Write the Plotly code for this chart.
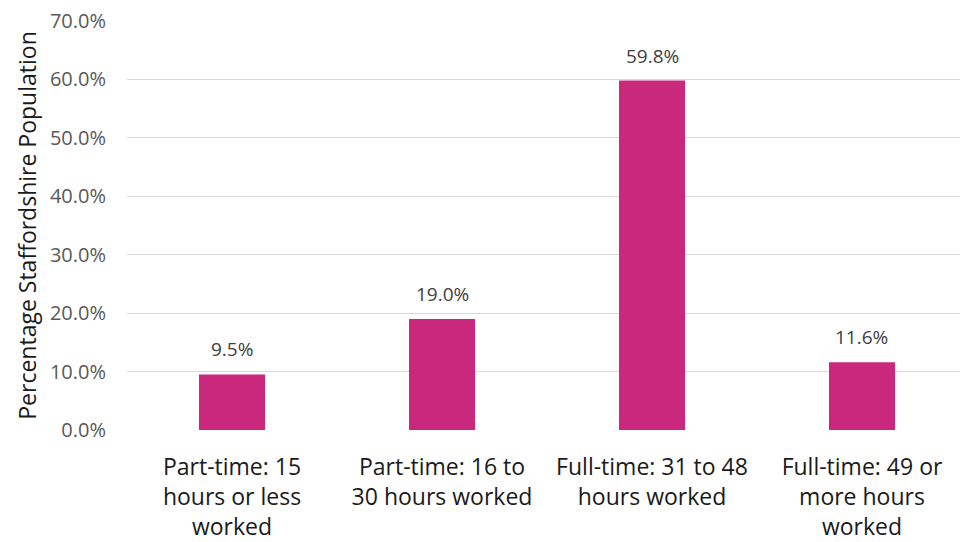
import plotly.graph_objects as go

categories = ["Part-time: 15<br>hours or less<br>worked",
              "Part-time: 16 to<br>30 hours worked",
              "Full-time: 31 to 48<br>hours worked",
              "Full-time: 49 or<br>more hours<br>worked"]
values = [9.5, 19.0, 59.8, 11.6]
y_ticks = [0, 10, 20, 30, 40, 50, 60, 70]

BAR = "#C9287D"
FONT = "Open Sans"

fig = go.Figure()
fig.add_trace(go.Bar(x=categories, y=values, marker=dict(color=BAR, line=dict(width=0)),
                     width=66/210, hoverinfo="skip"))

for c, v in zip(categories, values):
    fig.add_annotation(x=c, y=v, text=f"{v:.1f}%", showarrow=False, yanchor="middle",
                       yshift=25, font=dict(family=FONT, size=19, color="#404040"))

fig.update_layout(
    width=960, height=542, margin=dict(l=127, r=0, t=21, b=112),
    paper_bgcolor="white", plot_bgcolor="white", showlegend=False,
    xaxis=dict(range=[-0.5, 3.4667], showgrid=False, showline=False, ticks="",
               tickfont=dict(family=FONT, size=23, color="#1a1a1a"), ticklabelstandoff=21),
    yaxis=dict(range=[0, 70], tickvals=y_ticks, ticktext=[f"{t:.1f}%" for t in y_ticks],
               showgrid=True, gridcolor="#D9D9D9", gridwidth=1, zeroline=False,
               tickfont=dict(family=FONT, size=20, color="#595959"), ticklabelstandoff=20,
               title=dict(text="Percentage Staffordshire Population",
                          font=dict(family=FONT, size=23, color="#1a1a1a"), standoff=6)),
)
fig.write_html("out.html")
